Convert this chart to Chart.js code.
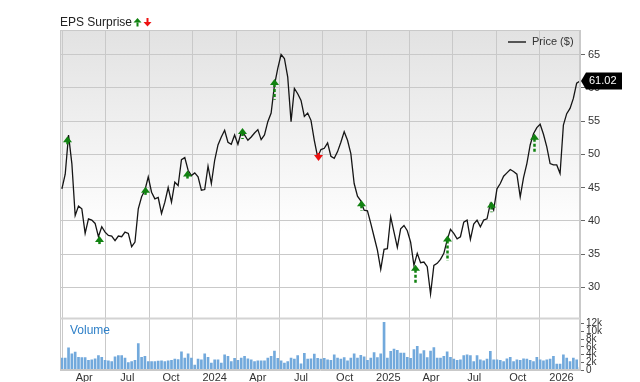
<!DOCTYPE html>
<html>
<head>
<meta charset="utf-8">
<script src="https://cdn.jsdelivr.net/npm/chart.js@4.4.1/dist/chart.umd.min.js"></script>
<style>
  html, body { margin: 0; padding: 0; background: #fff; }
  #wrap { position: relative; width: 640px; height: 382px; }
  #title { position: absolute; left: 60px; top: 15px; line-height: 14px; font: 12px "Liberation Sans", Arial, sans-serif; color: #222; }
  #marks { position: absolute; left: 133px; top: 17px; }
  canvas { position: absolute; left: 0; top: 0; }
</style>
</head>
<body>
<div id="wrap">
  <canvas id="chart" width="640" height="382"></canvas>
  <div id="title">EPS Surprise</div>
  <svg id="marks" width="20" height="12">
    <polygon points="4.5,1 8.5,5.5 0.5,5.5" fill="#118211"/>
    <rect x="3.5" y="5.5" width="2" height="4" fill="#118211"/>
    <rect x="13.5" y="1" width="2" height="4" fill="#ee1111"/>
    <polygon points="10.5,5 18.5,5 14.5,9.5" fill="#ee1111"/>
  </svg>
</div>
<script>
// weekly closes, first week 2023-02-13
const firstWeek = "2023-02-13";
const prices = [
  44.8, 47.0, 52.9, 48.6, 40.8, 42.2, 41.8, 38.1, 40.3, 40.1,
  39.6, 37.6, 39.1, 38.3, 37.8, 37.7, 37.0, 37.7, 37.6, 38.3,
  38.1, 36.1, 36.8, 41.8, 43.6, 44.6, 46.6, 44.3, 43.3, 43.5,
  41.1, 42.8, 45.0, 42.8, 45.8, 45.3, 49.2, 49.5, 47.6,
  46.8, 47.2, 46.6, 44.6, 44.7, 48.2, 45.6, 49.1, 51.4, 52.6,
  53.6, 51.8, 51.5, 52.9, 51.5, 53.3, 52.9, 52.1, 52.6, 53.2,
  53.7, 52.2, 52.9, 54.9, 56.2, 60.4, 62.9, 65.0, 64.4, 61.6,
  54.9, 59.9, 59.1, 58.1, 55.7, 56.2, 55.1, 52.1, 49.6,
  50.7, 50.9, 51.7, 49.7, 49.4, 50.4, 51.8, 53.4, 52.1, 50.1,
  45.6, 43.7, 43.0, 41.6, 41.5, 39.6, 37.6, 35.6, 32.7, 35.7,
  35.8, 40.6, 38.3, 36.0, 38.8, 39.3, 38.5, 36.8, 33.3, 35.1,
  33.7, 33.8, 33.1, 29.0, 33.3, 33.6, 34.2, 35.1, 37.1, 38.7,
  38.1, 37.3, 37.6, 39.8, 40.1, 37.2, 39.5, 40.1, 39.1, 40.1,
  40.3, 42.6, 41.6, 44.8, 45.6, 46.7, 47.2, 47.7, 47.4, 47.0,
  43.6, 46.5, 48.6, 51.4, 53.1, 54.0, 54.5, 53.0, 51.1, 48.6,
  48.4, 48.4, 47.1, 54.4, 56.1, 56.9, 58.4, 60.7, 61.02
];
// weekly volume, thousands
const volumes = [
  3.1, 3.1, 5.7, 4.2, 4.6, 3.3, 3.2, 3.2, 2.5, 2.6,
  2.9, 3.7, 3.3, 2.5, 2.4, 2.2, 3.4, 3.7, 3.7, 3.1,
  1.9, 2.2, 2.5, 6.8, 3.3, 3.5, 2.2, 2.2, 2.2, 2.3,
  2.4, 2.2, 2.4, 2.5, 2.8, 2.7, 4.7, 3.1, 4.2, 3.1,
  1.3, 2.8, 2.6, 4.2, 3.3, 1.8, 2.6, 2.6, 1.8, 3.9,
  3.5, 2.2, 3.0, 2.5, 3.1, 3.5, 2.9, 2.6, 2.2, 2.4,
  2.4, 2.4, 3.1, 3.5, 4.9, 3.0, 2.4, 1.8, 2.2, 3.1,
  2.8, 3.7, 1.6, 4.3, 2.8, 2.9, 4.1, 3.0,
  2.8, 3.0, 2.6, 2.5, 3.9, 3.1, 2.8, 3.2, 2.4, 3.1,
  4.2, 3.1, 3.8, 3.4, 2.5, 3.1, 4.5, 3.2, 4.2, 12.3,
  3.1, 4.8, 5.4, 5.1, 4.4, 4.4, 3.3, 3.0, 5.3, 6.1,
  4.2, 5.0, 3.2, 4.9, 5.8, 3.1, 3.1, 3.5, 4.7, 3.3,
  2.8, 2.5, 2.6, 3.7, 3.9, 3.7, 2.2, 3.7, 2.6, 2.4,
  2.8, 4.8, 2.6, 2.6, 2.5, 2.2, 2.9, 3.3, 2.2, 2.6,
  2.5, 2.9, 2.8, 2.5, 2.2, 3.3, 2.6, 2.4, 2.6, 2.8,
  3.5, 1.5, 1.5, 3.9, 3.1, 2.2, 3.1, 2.6, 0.6
];

const monthTicks = ["2023-04-01", "2023-07-01", "2023-10-01", "2024-01-01", "2024-04-01", "2024-07-01",
  "2024-10-01", "2025-01-01", "2025-04-01", "2025-07-01", "2025-10-01", "2026-01-01"];
const monthLabels = ["Apr", "Jul", "Oct", "2024", "Apr", "Jul", "Oct", "2025", "Apr", "Jul", "Oct", "2026"];
const priceTicks = [30, 35, 40, 45, 50, 55, 60, 65];
const volTicks = [0, 2, 4, 6, 8, 10, 12];

// earnings: arrow tip and tail prices (tip above tail = beat)
const epsDates = ["2023-02-24", "2023-05-03", "2023-08-07", "2023-11-03", "2024-02-27", "2024-05-06",
  "2024-08-05", "2024-11-05", "2025-02-26", "2025-05-05", "2025-08-05", "2025-11-04"];
const epsTip = [52.7, 37.7, 45.1, 47.55, 53.95, 61.3, 49.0, 43.1, 33.4, 37.8, 42.9, 53.1];
const epsTail = [51.3, 36.3, 43.75, 46.1, 52.3, 58.2, 50.45, 41.5, 30.5, 34.0, 41.3, 50.1];

const toDay = s => Date.parse(s + "T00:00:00Z") / 864e5;
const weeks = prices.map((_, i) => toDay(firstWeek) + 7 * i);
const xMin = toDay("2023-02-09");
const xMax = weeks[weeks.length - 1];

const FONT = '"Liberation Sans", Arial, sans-serif';
const GRID = "#c9c9c9";

const panels = {
  id: "panels",
  beforeDraw(chart) {
    const { ctx, chartArea: a, scales: { y } } = chart;
    const g = ctx.createLinearGradient(0, y.top, 0, y.bottom);
    g.addColorStop(0, "#e2e2e2");
    g.addColorStop(0.7, "#ffffff");
    ctx.save();
    ctx.fillStyle = g;
    ctx.fillRect(a.left, y.top, a.right - a.left, y.bottom - y.top);
    ctx.restore();
  },
  afterDatasetsDraw(chart) {
    const { ctx, scales: { x, y } } = chart;
    ctx.save();
    epsDates.forEach((d, i) => {
      const px = Math.round(x.getPixelForValue(toDay(d))) + 0.5;
      const tip = y.getPixelForValue(epsTip[i]);
      const tail = y.getPixelForValue(epsTail[i]);
      const up = tip < tail;
      const dir = up ? 1 : -1;
      const col = up ? "#118211" : "#ee1111";
      ctx.strokeStyle = col;
      ctx.fillStyle = col;
      ctx.lineWidth = 2.5;
      ctx.setLineDash([3, 2]);
      ctx.beginPath();
      ctx.moveTo(px, tip + dir * 5);
      ctx.lineTo(px, tail);
      ctx.stroke();
      ctx.beginPath();
      ctx.moveTo(px, tip);
      ctx.lineTo(px + 4.5, tip + dir * 6);
      ctx.lineTo(px - 4.5, tip + dir * 6);
      ctx.closePath();
      ctx.fill();
    });
    ctx.restore();
  },
  afterDraw(chart) {
    const { ctx, chartArea: a, scales: { y, vol } } = chart;
    ctx.save();
    // frame and panel divider
    ctx.strokeStyle = GRID;
    ctx.lineWidth = 1;
    ctx.strokeRect(a.left + 0.5, a.top + 0.5, a.right - a.left - 1, a.bottom - a.top - 1);
    ctx.fillStyle = "#d3d3d3";
    ctx.fillRect(a.left, vol.top - 1, a.right - a.left, 2);

    // legend
    ctx.strokeStyle = "#555";
    ctx.lineWidth = 2;
    ctx.beginPath();
    ctx.moveTo(508, 42);
    ctx.lineTo(526, 42);
    ctx.stroke();
    ctx.fillStyle = "#333";
    ctx.font = "11px " + FONT;
    ctx.textBaseline = "middle";
    ctx.fillText(chart.data.datasets[0].label, 532, 42);

    // volume panel label
    ctx.fillStyle = "#2f80c8";
    ctx.font = "12px " + FONT;
    ctx.textBaseline = "alphabetic";
    ctx.fillText("Volume", 70, vol.top + 15);

    // last price tag
    const last = prices[prices.length - 1];
    const yy = y.getPixelForValue(last);
    ctx.fillStyle = "#000";
    ctx.beginPath();
    ctx.moveTo(a.right + 1, yy);
    ctx.lineTo(a.right + 6, yy - 8.5);
    ctx.lineTo(622, yy - 8.5);
    ctx.lineTo(622, yy + 8.5);
    ctx.lineTo(a.right + 6, yy + 8.5);
    ctx.closePath();
    ctx.fill();
    ctx.fillStyle = "#fff";
    ctx.font = "11px " + FONT;
    ctx.textBaseline = "middle";
    ctx.fillText(last.toFixed(2), a.right + 9, yy);
    ctx.restore();
  }
};

new Chart(document.getElementById("chart"), {
  type: "line",
  data: {
    datasets: [
      {
        type: "line",
        label: "Price ($)",
        data: prices.map((p, i) => ({ x: weeks[i], y: p })),
        yAxisID: "y",
        borderColor: "#151515",
        borderWidth: 1.3,
        pointRadius: 0,
        tension: 0,
        order: 1
      },
      {
        type: "bar",
        label: "Volume",
        data: volumes.map((v, i) => ({ x: weeks[i], y: v })),
        yAxisID: "vol",
        backgroundColor: "#72a9dc",
        barThickness: 2,
        order: 2
      }
    ]
  },
  options: {
    responsive: false,
    animation: false,
    devicePixelRatio: 1,
    layout: { padding: { left: 60, top: 30, right: 0, bottom: 0 } },
    plugins: { legend: { display: false }, tooltip: { enabled: false } },
    scales: {
      x: {
        type: "linear",
        min: xMin,
        max: xMax,
        offset: false,
        afterBuildTicks: ax => { ax.ticks = monthTicks.map(d => ({ value: toDay(d) })); },
        afterFit: ax => { ax.height = 12; },
        ticks: {
          autoSkip: false,
          maxRotation: 0,
          padding: 1,
          color: "#333",
          font: { family: FONT, size: 11 },
          callback: (v, i) => monthLabels[i]
        },
        grid: { color: GRID, drawTicks: false },
        border: { color: GRID }
      },
      y: {
        position: "right",
        stack: "right",
        stackWeight: 288.5,
        min: 25.31,
        max: 68.68,
        afterBuildTicks: ax => { ax.ticks = priceTicks.map(v => ({ value: v })); },
        afterFit: ax => { ax.width = 60; },
        ticks: { autoSkip: false, padding: 3, color: "#333", font: { family: FONT, size: 11 } },
        grid: { color: GRID, tickColor: "#666", tickLength: 5 },
        border: { color: GRID }
      },
      vol: {
        position: "right",
        stack: "right",
        stackWeight: 51.5,
        min: 0,
        max: 13.3,
        afterBuildTicks: ax => { ax.ticks = volTicks.map(v => ({ value: v })); },
        afterFit: ax => { ax.width = 60; },
        ticks: {
          autoSkip: false,
          padding: 2,
          color: "#333",
          font: { family: FONT, size: 10 },
          callback: v => (v ? v + "k" : "0")
        },
        grid: { drawOnChartArea: false, tickColor: "#666", tickLength: 4 },
        border: { color: GRID }
      }
    }
  },
  plugins: [panels]
});
</script>
</body>
</html>
